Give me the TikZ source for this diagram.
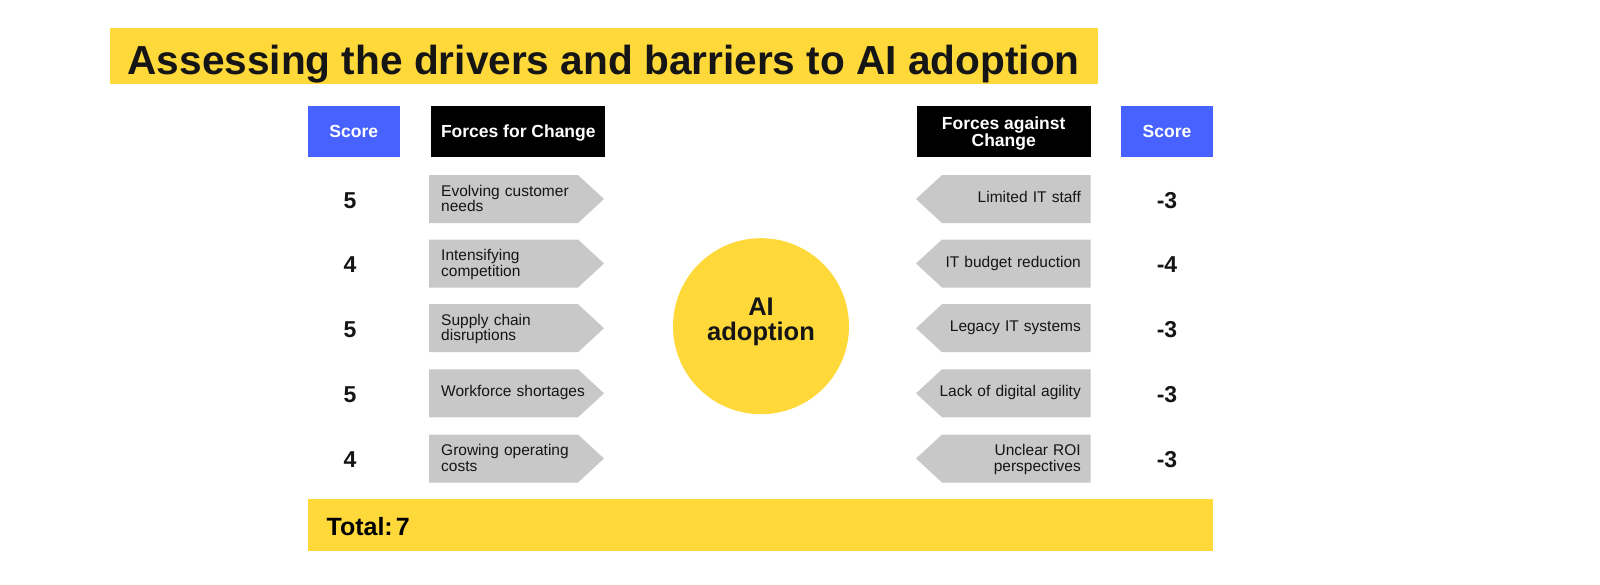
\documentclass[tikz,border=0pt]{standalone}
\usepackage{fontspec}
\setmainfont{Liberation Sans}
\definecolor{ayellow}{HTML}{FFD93A}
\definecolor{ablue}{HTML}{4862FF}
\definecolor{agray}{HTML}{C8C8C8}
\definecolor{aink}{HTML}{151515}
\begin{document}
\begin{tikzpicture}[x=1pt,y=-1pt,
  bar/.style={fill=ayellow, draw=none, inner sep=0pt},
  hdrblue/.style={fill=ablue, draw=none, minimum width=92.5pt, minimum height=51.6pt, inner sep=0pt,
    text=white, font=\fontsize{17.5}{17.5}\selectfont\bfseries, text height=12pt, text depth=0pt},
  hdrblack/.style={fill=black, draw=none, minimum width=174pt, minimum height=51.6pt, inner sep=0pt,
    text=white, font=\fontsize{17.5}{17.5}\selectfont\bfseries, text height=12pt, text depth=0pt},
  hdrtext/.style={text=white, font=\fontsize{17.5}{17.5}\selectfont\bfseries, inner sep=0pt, anchor=base},
  forcetext/.style={font=\fontsize{15.5}{15.5}\selectfont, text=aink, inner sep=0pt, text width=150pt},
  scoretext/.style={font=\fontsize{23}{23}\selectfont\bfseries, text=aink, inner sep=0pt, anchor=base},
  arrowfill/.style={fill=agray, draw=none}
]
\useasboundingbox (0,0) rectangle (1600,584);

% title
\node[bar, minimum width=988.5pt, minimum height=56pt] (titlebar) at (603.75,56.3) {};
\node[anchor=base west, inner sep=0pt, text=aink, font=\fontsize{40.6}{40.6}\selectfont\bfseries] (title) at (127.4,74) {Assessing the drivers and barriers to AI adoption};

% headers
\node[hdrblue] (scoreL) at (353.75,131.5) {Score};
\node[hdrblack] (forL) at (518.3,131.5) {Forces for Change};
\node[hdrblack] (againstR) at (1003.7,131.5) {};
\node[hdrtext] (againstR1) at (1003.7,129) {Forces against};
\node[hdrtext] (againstR2) at (1003.7,146) {Change};
\node[hdrblue] (scoreR) at (1167,131.5) {Score};

% rows
\def\rowh{24}
\foreach \i/\c/\sl/\sr/\tl/\tr/\twol/\twor in {
  1/199/5/-3/{Evolving customer\\needs}/{Limited IT staff}/1/0,
  2/263.5/4/-4/{Intensifying\\competition}/{IT budget reduction}/1/0,
  3/328.2/5/-3/{Supply chain\\disruptions}/{Legacy IT systems}/1/0,
  4/393.3/5/-3/{Workforce shortages}/{Lack of digital agility}/0/0,
  5/458.5/4/-3/{Growing operating\\costs}/{Unclear ROI\\perspectives}/1/1}{
  % left arrow
  \fill[arrowfill] (429,\c-\rowh) -- (578,\c-\rowh) -- (604,\c) -- (578,\c+\rowh) -- (429,\c+\rowh) -- cycle;
  % right arrow
  \fill[arrowfill] (1090.7,\c-\rowh) -- (942,\c-\rowh) -- (916,\c) -- (942,\c+\rowh) -- (1090.7,\c+\rowh) -- cycle;
  \ifnum\twol=1
    \node[forcetext, align=left, anchor=base west] (fl\i) at (441,\c-3) {\tl};
  \else
    \node[forcetext, align=left, anchor=base west] (fl\i) at (441,\c+3.5) {\tl};
  \fi
  \ifnum\twor=1
    \node[forcetext, align=right, anchor=base east] (fr\i) at (1081,\c-3) {\tr};
  \else
    \node[forcetext, align=right, anchor=base east] (fr\i) at (1081,\c+3.5) {\tr};
  \fi
  \node[scoretext] (sl\i) at (350,\c+9) {\sl};
  \node[scoretext] (sr\i) at (1167,\c+9) {\sr};
}

% centre circle
\node[circle, fill=ayellow, draw=none, minimum size=176pt, inner sep=0pt] (core) at (761,326.2) {};
\node[align=center, inner sep=0pt, text=aink, font=\fontsize{25.5}{25}\selectfont\bfseries] (coretext) at (761,321.5) {AI\\adoption};

% total
\node[bar, minimum width=905pt, minimum height=51.4pt] (totalbar) at (760.5,525) {};
\node[anchor=base west, inner sep=0pt, text=black, font=\fontsize{25}{25}\selectfont\bfseries] (total) at (326.4,535) {Total:\hspace{3pt}7};
\end{tikzpicture}
\end{document}
